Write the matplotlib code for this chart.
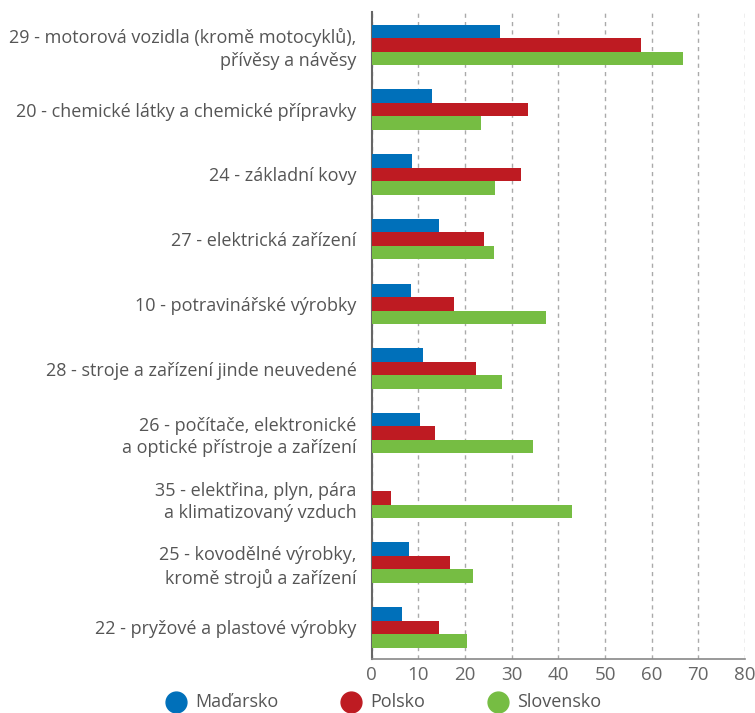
import matplotlib.pyplot as plt
import numpy as np
from matplotlib.lines import Line2D

# odvětví (shora dolů) a podíly v %
categories = [
    "29 - motorová vozidla (kromě motocyklů),\npřívěsy a návěsy",
    "20 - chemické látky a chemické přípravky",
    "24 - základní kovy",
    "27 - elektrická zařízení",
    "10 - potravinářské výrobky",
    "28 - stroje a zařízení jinde neuvedené",
    "26 - počítače, elektronické\na optické přístroje a zařízení",
    "35 - elektřina, plyn, pára\na klimatizovaný vzduch",
    "25 - kovodělné výrobky,\nkromě strojů a zařízení",
    "22 - pryžové a plastové výrobky",
]
madarsko = [27.6, 13.0, 8.7, 14.4, 8.4, 11.1, 10.4, 0.0, 8.1, 6.4]
polsko = [57.7, 33.4, 32.1, 24.0, 17.6, 22.3, 13.6, 4.1, 16.7, 14.4]
slovensko = [66.8, 23.4, 26.4, 26.3, 37.4, 28.0, 34.6, 42.9, 21.8, 20.4]
series_names = ["Maďarsko", "Polsko", "Slovensko"]
colors = ["#0070ba", "#be1b22", "#76bd43"]
xticks = [0, 10, 20, 30, 40, 50, 60, 70, 80]

plt.rcParams['font.family'] = ['Open Sans', 'DejaVu Sans']
txt = "#555555"

fig = plt.figure(figsize=(7.55, 7.13), dpi=100)
ax = fig.add_axes([0.4923, 0.0757, 0.4945, 0.9075])

y = np.arange(len(categories))
h = 0.209
for i, (vals, c) in enumerate(zip([madarsko, polsko, slovensko], colors)):
    ax.barh(y + (i - 1) * h, vals, height=h, color=c, zorder=3)

ax.set_ylim(9.49, -0.51)
ax.set_xlim(0, 80)
ax.set_xticks(xticks)
ax.set_yticks(y)
ax.set_yticklabels(categories, linespacing=1.3)
ax.tick_params(axis='y', length=0, pad=11, labelsize=13, labelcolor=txt)
ax.tick_params(axis='x', length=0, pad=5, labelsize=13.5, labelcolor="#666666")
ax.xaxis.grid(True, linestyle=(0, (3, 3)), color="#aaaaaa", linewidth=1, zorder=0)
for s in ['top', 'right']:
    ax.spines[s].set_visible(False)
ax.spines['left'].set_color("#666666")
ax.spines['left'].set_linewidth(1.5)
ax.spines['bottom'].set_color("#888888")
ax.spines['bottom'].set_linewidth(1.2)

# legenda ručně pod grafem
leg_x = [176, 351, 498]
ly = 1 - 702 / 713
for name, c, px in zip(series_names, colors, leg_x):
    fig.add_artist(Line2D([px / 755], [ly], transform=fig.transFigure, linestyle='none',
                          marker='o', markersize=15, markerfacecolor=c, markeredgecolor=c))
    fig.text((px + 19) / 755, ly, name, ha='left', va='center', fontsize=13, color=txt)

fig.savefig("out.png", dpi=100)
